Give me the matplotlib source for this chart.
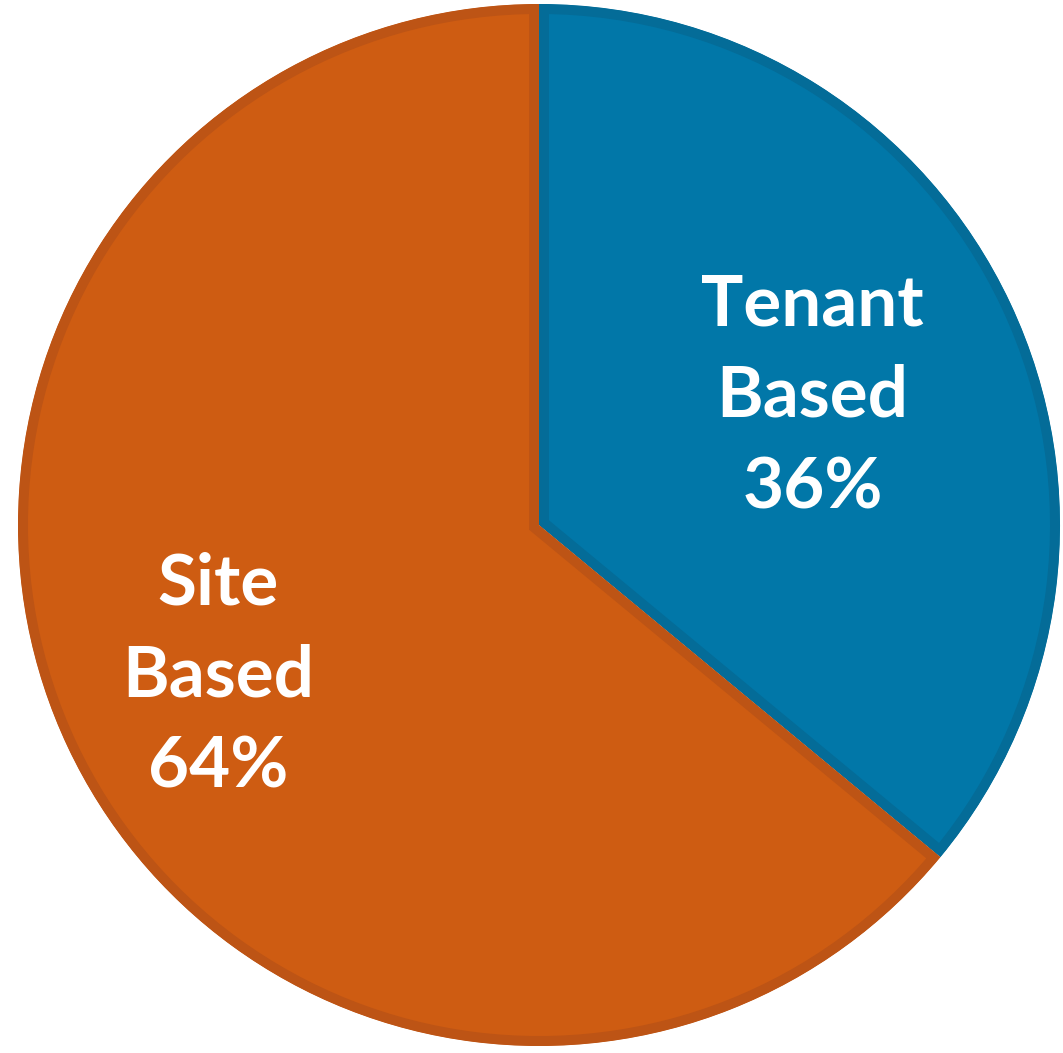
import numpy as np
import matplotlib
matplotlib.use("Agg")
import matplotlib.pyplot as plt

labels = ["Tenant\nBased", "Site\nBased"]
shares = [36, 64]
fill_colors = ["#0177A8", "#CE5C12"]
edge_colors = ["#046C98", "#BD5415"]
label_dist = [0.58, 0.68]   # fraction of radius for each label

W, H = 1063, 1053
fig = plt.figure(figsize=(W / 100, H / 100), dpi=100)
ax = fig.add_axes([0, 0, 1, 1])

cx, cy, r = 539, H - 525, 521
wedges, _ = ax.pie(shares, colors=fill_colors, startangle=90, counterclock=False,
                   center=(cx, cy), radius=r, frame=True,
                   wedgeprops=dict(linewidth=14.4))
ax.set_xlim(0, W)
ax.set_ylim(0, H)
ax.set_aspect("auto")
ax.axis("off")

for w, ec, lab, pct, d in zip(wedges, edge_colors, labels, shares, label_dist):
    w.set_edgecolor(ec)
    # pie turns clipping off; clip each slice to itself so the border sits inside
    w.set_clip_on(True)
    w.set_clip_path(w)
    mid = np.deg2rad((w.theta1 + w.theta2) / 2)
    ax.text(cx + d * r * np.cos(mid), cy + d * r * np.sin(mid), f"{lab}\n{pct}%",
            ha="center", va="center", color="white", fontsize=51,
            fontweight="bold", family="Lato", linespacing=1.5)

fig.savefig("out.png", dpi=100)
